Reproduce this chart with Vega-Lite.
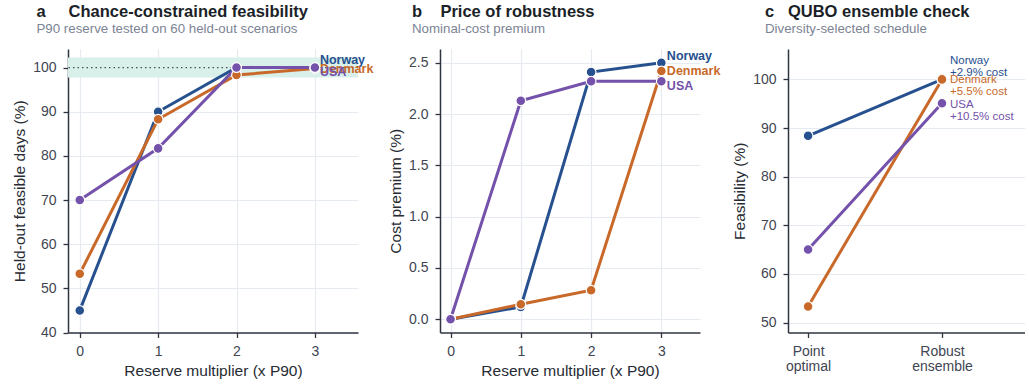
{
  "$schema": "https://vega.github.io/schema/vega-lite/v6.json",
  "background": "white",
  "padding": {"left": 12, "top": 4, "right": 0, "bottom": 4},
  "spacing": 14,
  "config": {
    "font": "Liberation Sans",
    "view": {"stroke": null},
    "axis": {
      "domainColor": "#2e3440", "domainWidth": 1.5,
      "tickColor": "#2e3440", "tickSize": 5, "tickWidth": 1.3,
      "labelColor": "#3f4552", "labelFontSize": 14, "labelPadding": 7,
      "titleFontSize": 15.5, "titleFontWeight": "normal", "titleColor": "#272b33", "titlePadding": 5,
      "gridColor": "#e6ebf2", "gridWidth": 1.2
    },
    "title": {
      "anchor": "start", "frame": "group", "fontSize": 16.5, "fontWeight": "bold", "color": "#1b1f27",
      "subtitleFontSize": 13.3, "subtitleColor": "#7c8494", "subtitlePadding": 1, "offset": 14
    }
  },
  "datasets": {
    "feas": [
      {"country": "Norway", "mult": 0, "value": 45},
      {"country": "Norway", "mult": 1, "value": 90},
      {"country": "Norway", "mult": 2, "value": 100},
      {"country": "Norway", "mult": 3, "value": 100},
      {"country": "Denmark", "mult": 0, "value": 53.3},
      {"country": "Denmark", "mult": 1, "value": 88.3},
      {"country": "Denmark", "mult": 2, "value": 98.3},
      {"country": "Denmark", "mult": 3, "value": 99.8},
      {"country": "USA", "mult": 0, "value": 70},
      {"country": "USA", "mult": 1, "value": 81.7},
      {"country": "USA", "mult": 2, "value": 100},
      {"country": "USA", "mult": 3, "value": 100}
    ],
    "cost": [
      {"country": "Norway", "mult": 0, "value": 0},
      {"country": "Norway", "mult": 1, "value": 0.12},
      {"country": "Norway", "mult": 2, "value": 2.41},
      {"country": "Norway", "mult": 3, "value": 2.5},
      {"country": "Denmark", "mult": 0, "value": 0},
      {"country": "Denmark", "mult": 1, "value": 0.145},
      {"country": "Denmark", "mult": 2, "value": 0.283},
      {"country": "Denmark", "mult": 3, "value": 2.42},
      {"country": "USA", "mult": 0, "value": 0},
      {"country": "USA", "mult": 1, "value": 2.13},
      {"country": "USA", "mult": 2, "value": 2.32},
      {"country": "USA", "mult": 3, "value": 2.32}
    ],
    "qubo": [
      {"country": "Norway", "design": 0, "value": 88.4, "note": ""},
      {"country": "Norway", "design": 1, "value": 100, "note": "Norway\n+2.9% cost"},
      {"country": "Denmark", "design": 0, "value": 53.3, "note": ""},
      {"country": "Denmark", "design": 1, "value": 100, "note": "Denmark\n+5.5% cost"},
      {"country": "USA", "design": 0, "value": 65, "note": ""},
      {"country": "USA", "design": 1, "value": 95.1, "note": "USA\n+10.5% cost"}
    ],
    "band": [{"lo": 97.75, "hi": 102.25, "target": 100}]
  },
  "hconcat": [
    {
      "width": 290, "height": 283.5,
      "title": {"text": "a\u00a0\u00a0\u00a0\u00a0\u00a0Chance-constrained feasibility", "subtitle": "\u00a0\u00a0\u00a0\u00a0\u00a0\u00a0\u00a0\u00a0\u00a0P90 reserve tested on 60 held-out scenarios", "dx": -31.5},
      "layer": [
        {
          "data": {"name": "band"},
          "mark": {"type": "rect", "color": "#d8efea"},
          "encoding": {
            "y": {"field": "lo", "type": "quantitative", "scale": {"domain": [40, 104.2], "nice": false, "zero": false}, "axis": {"title": "Held-out feasible days (%)"}},
            "y2": {"field": "hi"}
          }
        },
        {
          "data": {"name": "band"},
          "mark": {"type": "rule", "color": "#4a4f5a", "strokeDash": [1.5, 3], "strokeWidth": 1.3},
          "encoding": {
            "y": {"field": "target", "type": "quantitative", "axis": {"title": "Held-out feasible days (%)"}}
          }
        },
        {
          "data": {"name": "feas"},
          "mark": {"type": "line", "strokeWidth": 3},
          "encoding": {
            "x": {"field": "mult", "type": "quantitative", "scale": {"domain": [-0.15, 3.55], "nice": false, "zero": false}, "axis": {"title": "Reserve multiplier (x P90)", "values": [0, 1, 2, 3], "format": "d", "grid": true}},
            "y": {"field": "value", "type": "quantitative", "axis": {"title": "Held-out feasible days (%)", "values": [40, 50, 60, 70, 80, 90, 100], "grid": true}},
            "color": {"field": "country", "type": "nominal", "scale": {"domain": ["Norway", "Denmark", "USA"], "range": ["#27508f", "#c8692a", "#7451aa"]}, "legend": null}
          }
        },
        {
          "data": {"name": "feas"},
          "mark": {"type": "point", "filled": true, "size": 95, "stroke": "white", "strokeWidth": 1.2, "opacity": 1},
          "encoding": {
            "x": {"field": "mult", "type": "quantitative"},
            "y": {"field": "value", "type": "quantitative"},
            "fill": {"field": "country", "type": "nominal", "scale": {"domain": ["Norway", "Denmark", "USA"], "range": ["#27508f", "#c8692a", "#7451aa"]}, "legend": null}
          }
        },
        {
          "data": {"name": "feas"},
          "transform": [{"filter": "datum.country == 'Norway' && datum.mult == 3"}],
          "mark": {"type": "text", "align": "left", "baseline": "middle", "dx": 5, "dy": -7.5, "fontWeight": "bold", "fontSize": 12.5},
          "encoding": {
            "x": {"field": "mult", "type": "quantitative"},
            "y": {"field": "value", "type": "quantitative"},
            "text": {"field": "country"},
            "color": {"field": "country", "type": "nominal", "legend": null}
          }
        },
        {
          "data": {"name": "feas"},
          "transform": [{"filter": "datum.country == 'Denmark' && datum.mult == 3"}],
          "mark": {"type": "text", "align": "left", "baseline": "middle", "dx": 5, "dy": 0.2, "fontWeight": "bold", "fontSize": 12.5},
          "encoding": {
            "x": {"field": "mult", "type": "quantitative"},
            "y": {"field": "value", "type": "quantitative"},
            "text": {"field": "country"},
            "color": {"field": "country", "type": "nominal", "legend": null}
          }
        },
        {
          "data": {"name": "feas"},
          "transform": [{"filter": "datum.country == 'USA' && datum.mult == 3"}],
          "mark": {"type": "text", "align": "left", "baseline": "middle", "dx": 5, "dy": 4.7, "fontWeight": "bold", "fontSize": 12.5},
          "encoding": {
            "x": {"field": "mult", "type": "quantitative"},
            "y": {"field": "value", "type": "quantitative"},
            "text": {"field": "country"},
            "color": {"field": "country", "type": "nominal", "legend": null}
          }
        }
      ]
    },
    {
      "spacing": 11,
      "hconcat": [
        {
          "width": 260, "height": 283.5,
          "title": {"text": "b\u00a0\u00a0\u00a0\u00a0Price of robustness", "subtitle": "\u00a0\u00a0\u00a0\u00a0\u00a0\u00a0\u00a0\u00a0Nominal-cost premium", "dx": -28},
          "data": {"name": "cost"},
          "layer": [
            {
              "mark": {"type": "line", "strokeWidth": 3},
              "encoding": {
                "x": {"field": "mult", "type": "quantitative", "scale": {"domain": [-0.15, 3.55], "nice": false, "zero": false}, "axis": {"title": "Reserve multiplier (x P90)", "values": [0, 1, 2, 3], "format": "d", "grid": true}},
                "y": {"field": "value", "type": "quantitative", "scale": {"domain": [-0.13, 2.635], "nice": false, "zero": false}, "axis": {"title": "Cost premium (%)", "values": [0, 0.5, 1, 1.5, 2, 2.5], "format": ".1f", "grid": true}},
                "color": {"field": "country", "type": "nominal", "scale": {"domain": ["Norway", "Denmark", "USA"], "range": ["#27508f", "#c8692a", "#7451aa"]}, "legend": null}
              }
            },
            {
              "mark": {"type": "point", "filled": true, "size": 95, "stroke": "white", "strokeWidth": 1.2, "opacity": 1},
              "encoding": {
                "x": {"field": "mult", "type": "quantitative"},
                "y": {"field": "value", "type": "quantitative"},
                "fill": {"field": "country", "type": "nominal", "scale": {"domain": ["Norway", "Denmark", "USA"], "range": ["#27508f", "#c8692a", "#7451aa"]}, "legend": null}
              }
            },
            {
              "transform": [{"filter": "datum.country == 'Norway' && datum.mult == 3"}],
              "mark": {"type": "text", "align": "left", "baseline": "middle", "dx": 5.5, "dy": -7, "fontWeight": "bold", "fontSize": 12.5},
              "encoding": {
                "x": {"field": "mult", "type": "quantitative"},
                "y": {"field": "value", "type": "quantitative"},
                "text": {"field": "country"},
                "color": {"field": "country", "type": "nominal", "legend": null}
              }
            },
            {
              "transform": [{"filter": "datum.country == 'Denmark' && datum.mult == 3"}],
              "mark": {"type": "text", "align": "left", "baseline": "middle", "dx": 5.5, "dy": 0, "fontWeight": "bold", "fontSize": 12.5},
              "encoding": {
                "x": {"field": "mult", "type": "quantitative"},
                "y": {"field": "value", "type": "quantitative"},
                "text": {"field": "country"},
                "color": {"field": "country", "type": "nominal", "legend": null}
              }
            },
            {
              "transform": [{"filter": "datum.country == 'USA' && datum.mult == 3"}],
              "mark": {"type": "text", "align": "left", "baseline": "middle", "dx": 5.5, "dy": 4.7, "fontWeight": "bold", "fontSize": 12.5},
              "encoding": {
                "x": {"field": "mult", "type": "quantitative"},
                "y": {"field": "value", "type": "quantitative"},
                "text": {"field": "country"},
                "color": {"field": "country", "type": "nominal", "legend": null}
              }
            }
          ]
        },
        {
          "width": 237, "height": 283.5,
          "title": {"text": "c\u00a0\u00a0\u00a0QUBO ensemble check", "subtitle": "\u00a0\u00a0\u00a0\u00a0\u00a0\u00a0Diversity-selected schedule", "dx": -23},
          "data": {"name": "qubo"},
          "layer": [
            {
              "mark": {"type": "line", "strokeWidth": 3},
              "encoding": {
                "x": {"field": "design", "type": "quantitative", "scale": {"domain": [-0.15, 1.62], "nice": false, "zero": false}, "axis": {"title": null, "values": [0, 1], "grid": false, "labelLineHeight": 15, "labelExpr": "datum.value == 0 ? ['Point', 'optimal'] : ['Robust', 'ensemble']"}},
                "y": {"field": "value", "type": "quantitative", "scale": {"domain": [47.95, 106.25], "nice": false, "zero": false}, "axis": {"title": "Feasibility (%)", "values": [50, 60, 70, 80, 90, 100], "grid": true}},
                "color": {"field": "country", "type": "nominal", "scale": {"domain": ["Norway", "Denmark", "USA"], "range": ["#27508f", "#c8692a", "#7451aa"]}, "legend": null}
              }
            },
            {
              "mark": {"type": "point", "filled": true, "size": 95, "stroke": "white", "strokeWidth": 1.2, "opacity": 1},
              "encoding": {
                "x": {"field": "design", "type": "quantitative"},
                "y": {"field": "value", "type": "quantitative"},
                "fill": {"field": "country", "type": "nominal", "scale": {"domain": ["Norway", "Denmark", "USA"], "range": ["#27508f", "#c8692a", "#7451aa"]}, "legend": null}
              }
            },
            {
              "transform": [{"filter": "datum.country == 'Norway' && datum.design == 1"}],
              "mark": {"type": "text", "align": "left", "baseline": "middle", "dx": 8, "dy": -18, "fontSize": 11.5, "lineBreak": "\n", "lineHeight": 12},
              "encoding": {
                "x": {"field": "design", "type": "quantitative"},
                "y": {"field": "value", "type": "quantitative"},
                "text": {"field": "note"},
                "color": {"field": "country", "type": "nominal", "legend": null}
              }
            },
            {
              "transform": [{"filter": "datum.country == 'Denmark' && datum.design == 1"}],
              "mark": {"type": "text", "align": "left", "baseline": "middle", "dx": 8, "dy": 0.5, "fontSize": 11.5, "lineBreak": "\n", "lineHeight": 12},
              "encoding": {
                "x": {"field": "design", "type": "quantitative"},
                "y": {"field": "value", "type": "quantitative"},
                "text": {"field": "note"},
                "color": {"field": "country", "type": "nominal", "legend": null}
              }
            },
            {
              "transform": [{"filter": "datum.country == 'USA' && datum.design == 1"}],
              "mark": {"type": "text", "align": "left", "baseline": "middle", "dx": 8, "dy": 2, "fontSize": 11.5, "lineBreak": "\n", "lineHeight": 12},
              "encoding": {
                "x": {"field": "design", "type": "quantitative"},
                "y": {"field": "value", "type": "quantitative"},
                "text": {"field": "note"},
                "color": {"field": "country", "type": "nominal", "legend": null}
              }
            }
          ]
        }
      ]
    }
  ]
}
